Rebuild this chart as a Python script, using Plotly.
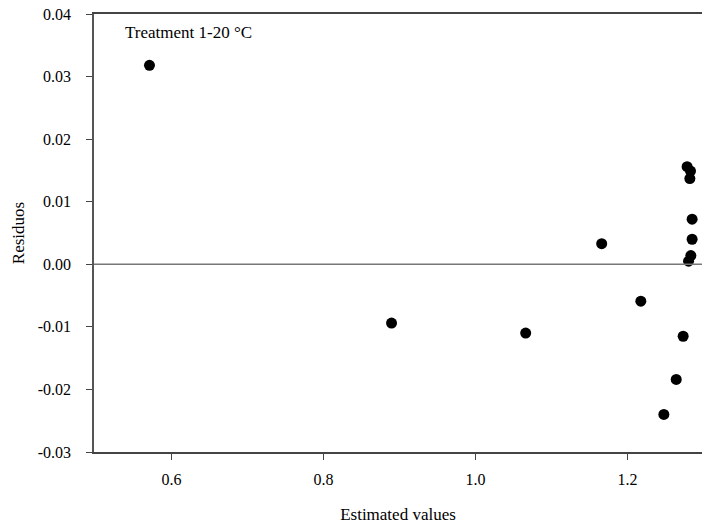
import plotly.graph_objects as go

estimated = [0.571, 0.8895, 1.066, 1.166, 1.2175, 1.2478, 1.2641, 1.2732,
             1.2784, 1.2829, 1.282, 1.285, 1.285, 1.2833, 1.2803]
residuals = [0.0318, -0.0094, -0.0110, 0.0033, -0.0059, -0.0240, -0.0184, -0.0115,
             0.0156, 0.0149, 0.0137, 0.0072, 0.0040, 0.0014, 0.0005]

x_ticks = [0.6, 0.8, 1.0, 1.2]
x_tick_labels = ["0.6", "0.8", "1.0", "1.2"]
y_ticks = [-0.03, -0.02, -0.01, 0.00, 0.01, 0.02, 0.03, 0.04]
y_tick_labels = ["-0.03", "-0.02", "-0.01", "0.00", "0.01", "0.02", "0.03", "0.04"]

font = "Liberation Serif, Times New Roman, serif"

fig = go.Figure()
fig.add_trace(go.Scatter(
    x=estimated, y=residuals, mode="markers",
    marker=dict(color="black", size=11),
    showlegend=False, cliponaxis=False,
))

fig.add_hline(y=0, line=dict(color="#777777", width=1.5))

fig.add_annotation(
    x=0.047, y=0.957, xref="paper", yref="paper",
    text="Treatment 1-20 °C", showarrow=False, xanchor="left", yanchor="middle",
    font=dict(family=font, size=17, color="black"),
)

fig.update_layout(
    width=702, height=527,
    margin=dict(l=94, r=0, t=14, b=75),
    plot_bgcolor="white", paper_bgcolor="white",
    font=dict(family=font, size=16, color="black"),
    xaxis=dict(
        range=[0.498, 1.298], tickvals=x_ticks, ticktext=x_tick_labels,
        showgrid=False, zeroline=False,
        showline=True, linecolor="#444444", linewidth=1.5, mirror=True,
        ticks="outside", ticklen=6, tickcolor="#444444",
        ticklabelstandoff=6,
        title=dict(text="Estimated values", font=dict(family=font, size=17), standoff=21),
        tickfont=dict(family=font, size=16),
    ),
    yaxis=dict(
        range=[-0.03, 0.04], tickvals=y_ticks, ticktext=y_tick_labels,
        showgrid=False, zeroline=False,
        showline=True, linecolor="#555555", linewidth=1.5,
        ticks="outside", ticklen=6, tickcolor="#444444",
        ticklabelstandoff=12,
        title=dict(text="Residuos", font=dict(family=font, size=17), standoff=9),
        tickfont=dict(family=font, size=16),
    ),
)

fig.write_html("out.html")
